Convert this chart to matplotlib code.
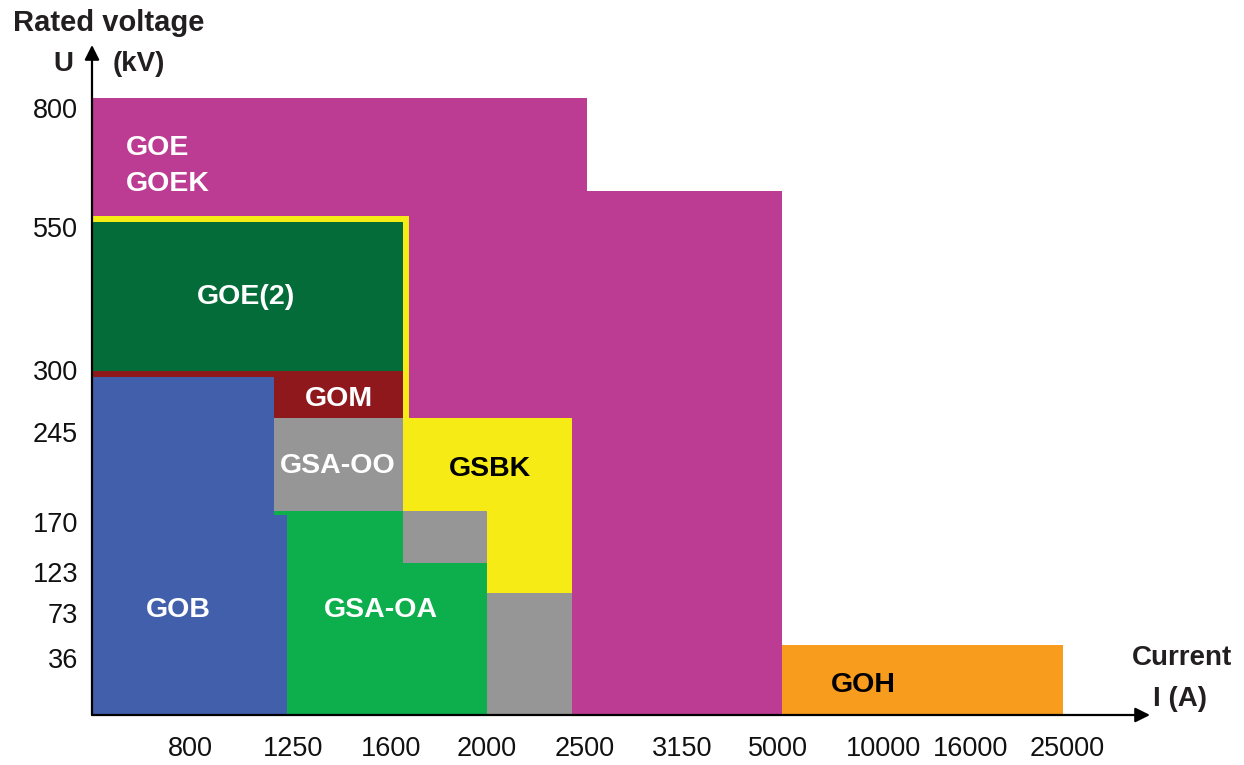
import matplotlib
matplotlib.use("Agg")
import matplotlib.pyplot as plt
from matplotlib.patches import Rectangle

plt.rcParams['font.family'] = ['Liberation Sans', 'DejaVu Sans']

# schematic positions (axis units) of the rating ticks
x_tick_pos = [9.8, 20.1, 29.9, 39.5, 49.3, 59.0, 68.6, 79.1, 87.9, 97.5]
x_tick_lab = ['800', '1250', '1600', '2000', '2500', '3150', '5000', '10000', '16000', '25000']
y_tick_pos = [60.7, 48.8, 34.5, 28.3, 19.3, 14.3, 10.2, 5.7]
y_tick_lab = ['800', '550', '300', '245', '170', '123', '73', '36']

# blocks: (x0, x1, y0, y1) in the same schematic units, drawn in this order
goe_blocks = [(0, 49.5, 0, 61.7), (49.5, 69.0, 0, 52.4)]
yellow_frame = [(0, 31.7, 0, 49.9)]
goe2_blocks = [(0, 31.1, 34.4, 49.3)]
gom_blocks = [(0, 31.1, 29.7, 34.4)]
gsaoo_blocks = [(18.2, 31.1, 20.4, 29.7)]
gsbk_blocks = [(31.1, 48.0, 12.2, 29.7)]
gsaoa_blocks = [(18.2, 39.5, 0, 20.4)]
grey_blocks = [(31.1, 39.5, 15.2, 20.4), (39.5, 48.0, 0, 12.2)]
gob_blocks = [(0, 18.2, 0, 33.8), (0, 19.5, 0, 20.0)]
goh_blocks = [(69.0, 97.1, 0, 7.0)]

layers = [
    (goe_blocks, '#bc3c94'),
    (yellow_frame, '#f6eb14'),
    (goe2_blocks, '#046c38'),
    (gom_blocks, '#8f181d'),
    (gsaoo_blocks, '#969696'),
    (gsbk_blocks, '#f6eb14'),
    (gsaoa_blocks, '#0caf4b'),
    (grey_blocks, '#969696'),
    (gob_blocks, '#415faa'),
    (goh_blocks, '#f79c1d'),
]

# block labels: text, x, y, colour, alignment
labels = [
    ('GOE', 3.4, 56.7, 'white', 'left'),
    ('GOEK', 3.4, 53.1, 'white', 'left'),
    ('GOE(2)', 15.4, 41.8, 'white', 'center'),
    ('GOM', 24.7, 31.6, 'white', 'center'),
    ('GSA-OO', 24.6, 24.9, 'white', 'center'),
    ('GSBK', 39.8, 24.6, 'black', 'center'),
    ('GOB', 8.6, 10.5, 'white', 'center'),
    ('GSA-OA', 28.9, 10.5, 'white', 'center'),
    ('GOH', 77.1, 3.0, 'black', 'center'),
]

fig = plt.figure(figsize=(12.44, 7.65), dpi=100)
ax = fig.add_axes([92 / 1244, 50 / 765, 1058 / 1244, 670 / 765])
ax.set_xlim(0, 105.8)
ax.set_ylim(0, 67.0)

for blocks, col in layers:
    for x0, x1, y0, y1 in blocks:
        ax.add_patch(Rectangle((x0, y0), x1 - x0, y1 - y0, facecolor=col,
                               edgecolor='none', zorder=1))

for txt, x, y, col, ha in labels:
    ax.text(x, y, txt, color=col, ha=ha, va='center', fontsize=20.5,
            fontweight='bold', zorder=3)

for s in ax.spines.values():
    s.set_visible(False)

ax.set_xticks(x_tick_pos, x_tick_lab)
ax.set_yticks(y_tick_pos, y_tick_lab)
ax.tick_params(axis='both', length=0, labelsize=19.5, colors='#111111')
ax.tick_params(axis='x', pad=15)
ax.tick_params(axis='y', pad=10)

# axis arrows
arrow = dict(arrowstyle='-|>', lw=1.6, color='black', mutation_scale=22,
             shrinkA=0, shrinkB=0)
ax.annotate('', xy=(105.8, 0), xytext=(0, 0), arrowprops=arrow,
            annotation_clip=False, zorder=4)
ax.annotate('', xy=(0, 67.0), xytext=(0, 0), arrowprops=arrow,
            annotation_clip=False, zorder=4)

dark = '#231f20'
ax.text(-7.9, 69.2, 'Rated voltage', ha='left', va='center', fontsize=21,
        fontweight='bold', color=dark, clip_on=False)
ax.text(-2.9, 65.1, 'U', ha='center', va='center', fontsize=20,
        fontweight='bold', color=dark, clip_on=False)
ax.text(4.7, 65.1, '(kV)', ha='center', va='center', fontsize=20,
        fontweight='bold', color=dark, clip_on=False)
ax.text(109.0, 5.7, 'Current', ha='center', va='center', fontsize=20,
        fontweight='bold', color=dark, clip_on=False)
ax.text(108.8, 1.6, 'I (A)', ha='center', va='center', fontsize=20,
        fontweight='bold', color=dark, clip_on=False)

fig.savefig('out.png', dpi=100)
